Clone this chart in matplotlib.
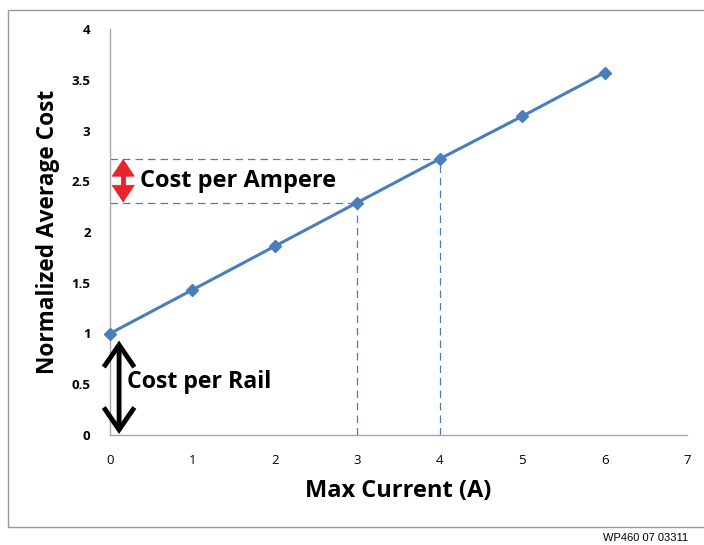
import matplotlib
matplotlib.use("Agg")
import matplotlib.pyplot as plt
from matplotlib.patches import Rectangle, FancyArrowPatch

plt.rcParams['font.family'] = ['Open Sans', 'DejaVu Sans']

max_current = [0, 1, 2, 3, 4, 5, 6]
avg_cost = [1.00, 1.43, 1.86, 2.29, 2.72, 3.14, 3.57]
x_ticks = [0, 1, 2, 3, 4, 5, 6, 7]
y_ticks = [0, 0.5, 1, 1.5, 2, 2.5, 3, 3.5, 4]
y_tick_labels = ["0", "0.5", "1", "1.5", "2", "2.5", "3", "3.5", "4"]

blue = "#4a7ebb"
red = "#e8242a"

fig = plt.figure(figsize=(7.04, 5.45), dpi=100)
fig.patches.append(Rectangle((8 / 704, 1 - 527 / 545), 1.0, (527 - 10) / 545,
                             transform=fig.transFigure, fill=False,
                             edgecolor="#9a9a9a", linewidth=1.0))

ax = fig.add_axes([110 / 704, 1 - 435 / 545, 577 / 704, 406 / 545])
ax.plot(max_current, avg_cost, color=blue, linewidth=2.2, marker="D",
        markersize=6, markerfacecolor=blue, markeredgecolor=blue, zorder=3,
        clip_on=False)

# Guide lines between the 3 A and 4 A points
i3, i4 = max_current.index(3), max_current.index(4)
for i in (i3, i4):
    ax.plot([0, max_current[i]], [avg_cost[i]] * 2, color=blue, linewidth=0.9,
            dashes=(6, 4))
    ax.plot([max_current[i]] * 2, [0, avg_cost[i]], color=blue, linewidth=0.9,
            dashes=(6, 4))

# Red double arrow: filled heads, thick shaft
xr = 0.16
ax.add_patch(FancyArrowPatch((xr, avg_cost[i3]), (xr, avg_cost[i4]),
                             arrowstyle="<|-|>,head_length=0.6,head_width=0.4",
                             mutation_scale=20, facecolor=red, edgecolor=red,
                             linewidth=0.5, shrinkA=0, shrinkB=0, zorder=4))
ax.plot([xr, xr], [avg_cost[i3] + 0.1, avg_cost[i4] - 0.1], color=red,
        linewidth=3.5, solid_capstyle="butt", zorder=4)

# Black double arrow: open chevron heads
xb = 0.11
ax.add_patch(FancyArrowPatch((xb, 0.01), (xb, avg_cost[0] - 0.07),
                             arrowstyle="<->,head_length=0.8,head_width=0.55",
                             mutation_scale=20, color="black", linewidth=3.5,
                             capstyle="butt", joinstyle="miter",
                             shrinkA=0, shrinkB=0, clip_on=False, zorder=4))

ax.text(0.36, (avg_cost[i3] + avg_cost[i4]) / 2, "Cost per Ampere",
        fontsize=17, fontweight="bold", va="center", ha="left")
ax.text(0.21, 0.52, "Cost per Rail", fontsize=16.7, fontweight="bold",
        va="center", ha="left")

ax.set_xlim(0, 7)
ax.set_ylim(0, 4)
ax.set_xticks(x_ticks)
ax.set_yticks(y_ticks)
ax.set_yticklabels(y_tick_labels)
ax.tick_params(axis="both", length=0, labelsize=9.5)
ax.tick_params(axis="x", pad=14)
ax.tick_params(axis="y", pad=14)
for lbl in ax.get_yticklabels():
    lbl.set_fontweight("bold")

for side in ("top", "right"):
    ax.spines[side].set_visible(False)
for side in ("left", "bottom"):
    ax.spines[side].set_color("#a6a6a6")
    ax.spines[side].set_linewidth(1.0)

ax.set_xlabel("Max Current (A)", fontsize=17, fontweight="bold", labelpad=8)
ax.set_ylabel("Normalized Average Cost", fontsize=16.3, fontweight="bold",
              labelpad=8)

fig.text(688 / 704, 1 - 538 / 545, "WP460 07 03311", fontsize=8,
         family=["Liberation Sans", "DejaVu Sans"], ha="right", va="center")

fig.savefig("out.png", dpi=100)
